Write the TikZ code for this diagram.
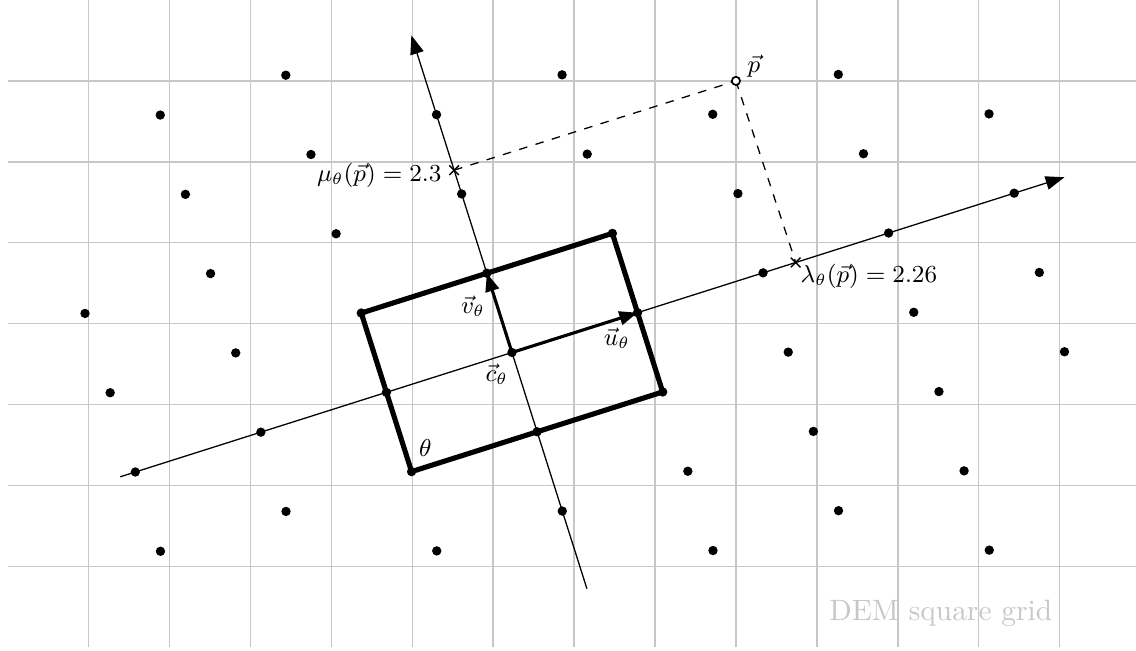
\documentclass[tikz,border=0pt]{standalone}
\usepackage{graphicx}
\usetikzlibrary{arrows.meta,shapes.misc}
\newcommand{\mylab}[1]{\scalebox{0.955}{\small #1}}
\begin{document}
\begin{tikzpicture}[
  gridline/.style={draw=black!22, line width=0.55pt},
  axisline/.style={line width=0.45pt, -{Triangle[length=6.6pt,width=4.8pt]}},
  vecline/.style={line width=1.1pt, -{Triangle[length=6.4pt,width=4.8pt]}},
  frameline/.style={line width=1.8pt, line join=round},
  dot/.style={circle, fill=black, inner sep=0pt, minimum size=3.3pt},
  pmark/.style={circle, draw=black, fill=white, line width=0.6pt, inner sep=0pt, minimum size=2.9pt},
  xmark/.style={cross out, draw=black, line width=0.5pt, inner sep=0pt, minimum size=2.9pt},
  projline/.style={dashed, line width=0.45pt},
  lbl/.style={inner sep=0pt},
  gridlabel/.style={inner sep=0pt, text=black!22, font=\fontsize{10.35}{12}\selectfont}
]
\useasboundingbox (-0.096,-0.037) rectangle (13.945,8.0);

% DEM square grid
\foreach \x in {1,...,13} \draw[gridline] (\x,0) -- (\x,8);
\foreach \y in {1,...,7} \draw[gridline] (0,\y) -- (14,\y);

\coordinate (pc) at (9,7);

\begin{scope}[shift={(6.232,3.643)}, x={(1.5518cm,0.4923cm)}, y={(-0.3109cm,0.9799cm)}]
  \foreach \i/\j in {-3/-1,-3/0,-3/1,-3/2,
    -2/-1,-2/0,-2/1,-2/2,-2/3,-2/4,
    -1/-2,-1/-1,-1/0,-1/1,-1/2,-1/3,-1/4,
    0/-2,0/-1,0/0,0/1,0/2,0/3,
    1/-3,1/-2,1/-1,1/0,1/1,1/2,1/3,
    2/-3,2/-2,2/-1,2/0,2/1,2/2,
    3/-4,3/-3,3/-2,3/-1,3/0,3/1,3/2,
    4/-2,4/-1,4/0,4/1}
    \coordinate (d\i-\j) at (\i,\j);
  \coordinate (ua) at (-3.12,0);
  \coordinate (ub) at (4.4,0);
  \coordinate (va) at (0,-2.98);
  \coordinate (vb) at (0,4);
  \coordinate (lamc) at (2.26,0);
  \coordinate (muc) at (0,2.3);
\end{scope}

% rotated axes
\draw[axisline] (ua) -- (ub);
\draw[axisline] (va) -- (vb);

% projections of p
\draw[projline] (muc) -- (pc);
\draw[projline] (pc) -- (lamc);

% frame
\draw[frameline] (d-1--1) -- (d1--1) -- (d1-1) -- (d-1-1) -- cycle;

% basis vectors
\draw[vecline] (d0-0) -- (d1-0);
\draw[vecline] (d0-0) -- (d0-1);

% lattice dots
\foreach \i/\j in {-3/-1,-3/0,-3/1,-3/2,
    -2/-1,-2/0,-2/1,-2/2,-2/3,-2/4,
    -1/-2,-1/-1,-1/0,-1/1,-1/2,-1/3,-1/4,
    0/-2,0/-1,0/0,0/1,0/2,0/3,
    1/-3,1/-2,1/-1,1/0,1/1,1/2,1/3,
    2/-3,2/-2,2/-1,2/0,2/1,2/2,
    3/-4,3/-3,3/-2,3/-1,3/0,3/1,3/2,
    4/-2,4/-1,4/0,4/1}
  \node[dot] (n\i-\j) at (d\i-\j) {};

% marks
\node[xmark] (lam) at (lamc) {};
\node[xmark] (mu) at (muc) {};
\node[pmark] (p) at (pc) {};

% labels
\node[lbl, anchor=base west] (plbl) at (9.137,7.107) {\mylab{$\vec{p}$}};
\node[lbl, anchor=base east] (mulbl) at (5.367,5.754) {\mylab{$\mu_\theta(\vec{p}) = 2.3$}};
\node[lbl, anchor=base west] (lamlbl) at (9.793,4.503) {\mylab{$\lambda_\theta(\vec{p}) = 2.26$}};
\node[lbl, anchor=base east] (vlbl) at (5.905,4.125) {\mylab{$\vec{v}_\theta$}};
\node[lbl, anchor=base east] (clbl) at (6.189,3.282) {\mylab{$\vec{c}_\theta$}};
\node[lbl, anchor=base west] (ulbl) at (7.361,3.733) {\mylab{$\vec{u}_\theta$}};
\node[lbl, anchor=base west] (thlbl) at (5.077,2.361) {\mylab{$\theta$}};
\node[gridlabel, anchor=base east] (dem) at (12.916,0.334) {DEM square grid};
\end{tikzpicture}
\end{document}
